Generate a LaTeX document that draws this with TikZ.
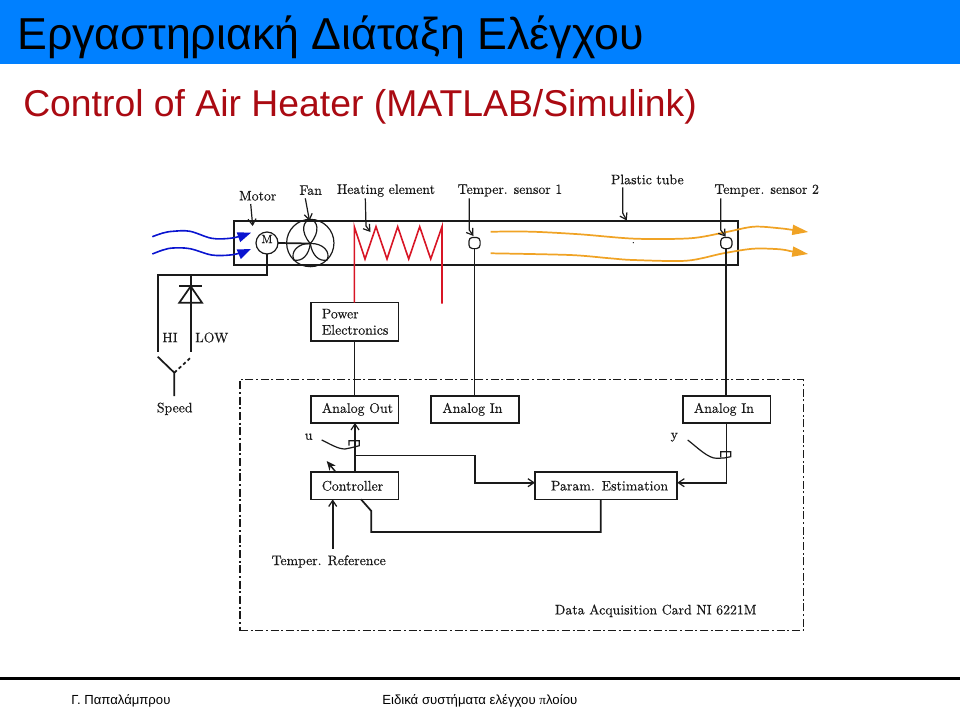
\documentclass[tikz,border=0pt]{standalone}
\usepackage{fontspec}
\usetikzlibrary{arrows.meta,calc}
\newfontfamily\liberasans{Liberation Sans}
\newfontfamily\liberaserif{Liberation Serif}
\newfontfamily\cmfont[FakeBold=0.35]{Latin Modern Roman}
\definecolor{bandblue}{HTML}{0080FF}
\definecolor{subred}{HTML}{AA0A12}
\definecolor{heatred}{HTML}{D81525}
\definecolor{airblue}{HTML}{0A14D0}
\definecolor{airorange}{HTML}{F0A325}
\definecolor{ink}{HTML}{1A1A1A}
\tikzset{
  x=0.75pt,y=-0.75pt,
  wire/.style={draw=ink,line width=1.3pt,line join=miter},
  thin wire/.style={draw=ink,line width=0.9pt},
  barb/.style={-{Straight Barb[length=4.5pt,width=6pt,line width=0.9pt]}},
  box/.style={draw=ink,line width=1.2pt,minimum height=20.4pt,inner sep=0pt,outer sep=0pt,font=\cmfont\fontsize{10.4}{12.2}\selectfont,text=ink},
  leftbox/.style={box,minimum width=65.7pt,text width=49pt,align=left},
  tag/.style={inner sep=0pt,outer sep=0pt,font=\cmfont\fontsize{10.35}{12.5}\selectfont,text=ink},
  sensorbox/.style={draw=ink,line width=0.9pt,rounded corners=2.8pt,minimum size=8.4pt,inner sep=0pt,outer sep=0pt},
  heater/.style={draw=heatred,line width=1.2pt},
  blueair/.style={draw=airblue,line width=1.2pt,-{Triangle[length=10pt,width=7.5pt,fill=airblue]}},
  orangeair/.style={draw=airorange,line width=1.3pt,-{Triangle[length=12pt,width=7.5pt,fill=airorange]}},
}
\begin{document}
\begin{tikzpicture}
\useasboundingbox (0,0) rectangle (960,707);
% header
\fill[bandblue] (0,0) rectangle (960,64);
\node[anchor=base west,inner sep=0pt,font=\liberasans\fontsize{33.55}{36}\selectfont,text=black] (title) at (17,49) {Εργαστηριακή Διάταξη Ελέγχου};
\node[anchor=base west,inner sep=0pt,font=\liberasans\fontsize{28}{32}\selectfont,text=subred] (subtitle) at (23,116) {Control of Air Heater (MATLAB/Simulink)};
% footer
\fill[black] (0,677) rectangle (960,680);
\node[anchor=base west,inner sep=0pt,font=\liberasans\fontsize{9.85}{12}\selectfont] (author) at (71,704) {Γ. Παπαλάμπρου};
\node[anchor=base west,inner sep=0pt,font=\liberasans\fontsize{9.9}{12}\selectfont] (course) at (382,704) {Ειδικά συστήματα ελέγχου {\liberaserif π}λοίου};
% tube
\node[draw=ink,line width=1.2pt,minimum width=377.6pt,minimum height=32.8pt,inner sep=0pt,outer sep=0pt] (tube) at (486,242.85) {};
% data card
\node[draw=ink,line width=1.2pt,dash pattern=on 6pt off 2pt on 1.5pt off 2pt,minimum width=422.5pt,minimum height=188.5pt,inner sep=0pt,outer sep=0pt] (card) at (521.65,505) {};
% boxes
\node[leftbox,minimum height=28.7pt] (power) at (354.5,321.8) {Power\\Electronics};
\node[leftbox] (aout) at (354.5,409.3) {\mbox{Analog Out}};
\node[leftbox] (ain1) at (475,409.3) {\mbox{Analog In}};
\node[leftbox] (ain2) at (726.5,409.3) {\mbox{Analog In}};
\node[leftbox] (ctrl) at (354.5,485.8) {Controller};
\node[box,minimum width=106.7pt,text width=82.7pt,align=left] (param) at (606.1,485.8) {\mbox{Param. Estimation}};
% labels
\node[tag] (lmotor) at (257.7,195.8) {Motor};
\node[tag] (lfan) at (310.7,190.2) {Fan};
\node[tag] (lheat) at (386,190.5) {Heating element};
\node[tag] (ls1) at (510,190.5) {Temper. sensor 1};
\node[tag] (ltube) at (647.3,179.5) {Plastic tube};
\node[tag] (ls2) at (766.7,190.5) {Temper. sensor 2};
\node[tag] (lhi) at (170,337.5) {HI};
\node[tag] (llow) at (211.7,337.5) {LOW};
\node[tag] (lspeed) at (174.7,408.8) {Speed};
\node[tag] (lu) at (308.7,436.8) {u};
\node[tag] (ly) at (674.3,437.2) {y};
\node[tag] (lref) at (328.7,561.5) {Temper. Reference};
\node[tag] (ldaq) at (655.7,610.8) {Data Acquisition Card NI 6221M};
% motor and fan
\node[draw=ink,line width=0.9pt,circle,minimum size=16.5pt,inner sep=0pt,outer sep=0pt] (motor) at (267,243) {};
\node[tag,font=\cmfont\fontsize{9}{10}\selectfont] (motorM) at (267,239) {M};
\node[draw=ink,line width=0.9pt,circle,minimum size=35.5pt,inner sep=0pt,outer sep=0pt] (fan) at (310.3,243) {};
\coordinate (hub) at (310.3,243.5);
\draw[ink,line width=0.9pt] (hub) .. controls (300,232) and (303,220) .. (310.3,220) .. controls (317.6,220) and (320.6,232) .. (hub);
\draw[ink,line width=0.9pt] (hub) .. controls (298,243) and (290,252) .. (294,260) .. controls (302,262) and (309,255) .. (hub);
\draw[ink,line width=0.9pt] (hub) .. controls (323,243) and (331,252) .. (327,260) .. controls (319,262) and (312,255) .. (hub);
\draw[wire] (motor.east) -- (hub);
\draw[ink,line width=1.5pt] (303,265) -- (318,265);
% heater
\coordinate (h0) at (354.3,226.7);
\coordinate (h8) at (442,226.7);
\coordinate (pwrl) at (power.north -| h0);
\coordinate (pwrr) at (442,303.5);
\draw[heater] (pwrl) -- (h0) -- (365,259) -- (376,226.7) -- (387,259) -- (397.7,226.7) -- (408.7,259) -- (419.7,226.7) -- (430.7,259) -- (h8) -- (pwrr);
% sensors
\node[sensorbox] (s1) at (474.5,243) {};
\node[sensorbox] (s2) at (726.3,243) {};
% air
\draw[blueair] plot[smooth,tension=0.6] coordinates {(152.3,236.7) (163,233) (173,231.3) (190,231.3) (211.7,238.3) (230,238.3) (241.7,235.7) (251,232.7)};
\draw[blueair] plot[smooth,tension=0.6] coordinates {(152.3,254) (163,250) (173,248) (190,248.7) (211.7,255) (230,255) (241.7,252.5) (251,249)};
\draw[orangeair] plot[smooth,tension=0.5] coordinates {(490.7,231.7) (531.7,231.7) (580,234.3) (635,238.7) (690,238.3) (723.3,232.7) (753.3,226.7) (780,228.3) (793.3,230) (808.3,232)};
\draw[orangeair] plot[smooth,tension=0.5] coordinates {(490.7,253.3) (570,255) (610,258.3) (633.3,260) (686.7,260.7) (723.3,253.3) (753.3,248.7) (780,249.3) (793.3,251.7) (808.3,254)};
\fill[ink] (633.3,242.7) circle (0.5pt);
% callouts
\coordinate (amotor) at (252.7,226);
\coordinate (afan) at (309.5,221);
\coordinate (aheat) at (370.5,232);
\coordinate (as1) at (473.5,236);
\coordinate (atube) at (626.7,220.5);
\coordinate (as2) at (725.7,236.7);
\draw[thin wire,barb] (250.7,204) -- (amotor);
\draw[thin wire,barb] (305.3,198.3) -- (afan);
\draw[thin wire,barb] (365.3,198.3) -- (366,226) -- (aheat);
\draw[thin wire,barb] (469.3,198.3) -- (469.3,230) -- (as1);
\draw[thin wire,barb] (622.7,187.3) -- (622.7,213) -- (atube);
\draw[thin wire,barb] (720.7,198.3) -- (720.7,230) -- (as2);
% signal wires
\draw[wire] (s1.south) -- (s1.south |- ain1.north);
\draw[wire] (s2.south) -- (s2.south |- ain2.north);
\draw[wire] (power.south) -- (aout.north -| power.south);
% motor wiring
\coordinate (mw) at (267,275.3);
\coordinate (hiw) at (157.7,275.3);
\coordinate (hie) at (157.7,352.3);
\coordinate (lowt) at (190.7,275.3);
\coordinate (lowe) at (190.7,352.3);
\draw[wire] (motor.south) -- (mw) -- (hiw) -- (hie);
\draw[wire] (lowt) -- (lowe);
\draw[wire] (179.3,286.3) -- (202,286.3);
\draw[wire] (190.7,286.3) -- (179.3,302.7) -- (202,302.7) -- cycle;
\coordinate (swc) at (174.3,372.7);
\draw[wire] (157.7,356.7) -- (swc) -- (174.3,396);
\draw[wire,dash pattern=on 2.5pt off 2pt] (swc) -- (191.7,356.7);
% controller region
\draw[wire,barb] (ctrl.north -| 355,0) -- (aout.south -| 355,0);
\draw[draw=ink,line width=1.1pt,-{Stealth[length=7pt,width=6pt]}] (336,472.3) -- (326.7,461);
\draw[thin wire] (321.7,440) .. controls (330,444) and (338,449) .. (345,449) -- (350,448) -- (359.3,445.7) -- (359.3,440.7) -- (349,440.7) -- (349,445.7);
\coordinate (b1) at (355,455.5);
\coordinate (b2) at (475,455.5);
\coordinate (b3) at (475,482.7);
\draw[wire,barb] (b1) -- (b2) -- (b3) -- (b3 -| param.west);
\coordinate (c1) at (361,499.3);
\coordinate (c2) at (371.3,511);
\coordinate (c3) at (371.3,532);
\coordinate (c4) at (600.7,532);
\draw[wire] (c1) -- (c2) -- (c3) -- (c4) -- (c4 |- param.south);
\coordinate (r0) at (332.7,549);
\draw[wire,barb] (r0) -- (r0 |- ctrl.south);
\coordinate (y1) at (726.5,482.7);
\draw[wire,barb] (ain2.south) -- (y1) -- (y1 -| param.east);
\draw[thin wire] (687.7,440) .. controls (698,448) and (708,458.3) .. (716.7,458.3) -- (724,458) -- (730.7,456.7) -- (730.7,451.7) -- (720.7,451.7) -- (720.7,457);
\end{tikzpicture}
\end{document}
